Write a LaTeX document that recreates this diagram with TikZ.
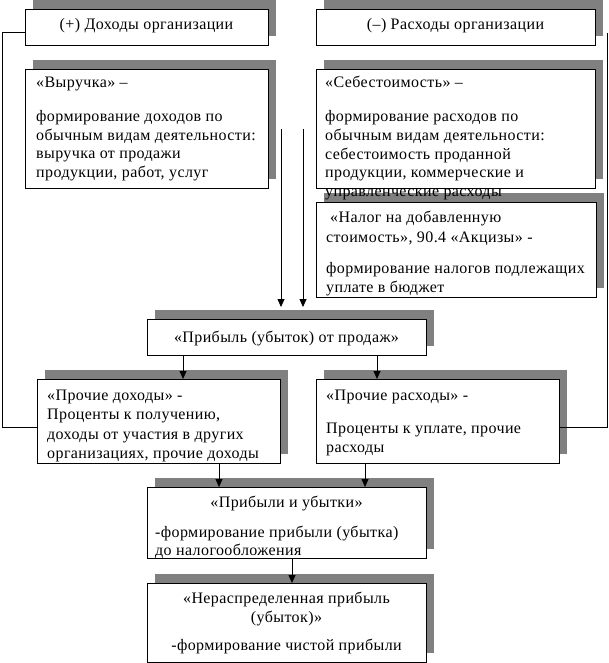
\documentclass[tikz,border=0pt]{standalone}
\usepackage{fontspec}
\setmainfont{Liberation Serif}[LetterSpace=2.5]
\usetikzlibrary{arrows.meta,shadows}
\definecolor{shadowgray}{HTML}{808080}
\begin{document}
\begin{tikzpicture}[x=1pt,y=-1pt,
  box/.style={draw=black, line width=0.8pt, fill=white, inner sep=0pt, outer sep=0pt,
    anchor=north west, general shadow={fill=shadowgray, shadow xshift=8pt, shadow yshift=9pt}},
  txt/.style={inner sep=0pt, font=\fontsize{16}{18.5}\selectfont},
  tl/.style={txt, anchor=base west},
  tc/.style={txt, anchor=base},
  arr/.style={line width=0.8pt, -{Triangle[length=8pt,width=7pt]}},
  con/.style={line width=0.8pt}]
\useasboundingbox (0,0) rectangle (609,663);

% boxes
\node[box, minimum width=243pt, minimum height=36pt] (A) at (25,9) {};
\node[box, minimum width=279pt, minimum height=36pt] (B) at (316,9) {};
\node[box, minimum width=243pt, minimum height=119pt] (C) at (25,69) {};
\node[box, minimum width=279pt, minimum height=119pt] (D) at (316,69) {};
\node[box, minimum width=280pt, minimum height=95pt] (E) at (316,202) {};
\node[box, minimum width=279pt, minimum height=36pt] (F) at (147,319) {};
\node[box, minimum width=243pt, minimum height=84pt] (G) at (37,379) {};
\node[box, minimum width=243pt, minimum height=84pt] (H) at (316,379) {};
\node[box, minimum width=279pt, minimum height=71pt] (I) at (147,487) {};
\node[box, minimum width=279pt, minimum height=79pt] (J) at (147,583) {};

% texts
\node[tc] (At) at (146.5,30) {(+) Доходы организации};
\node[tc] (Bt) at (455.5,30) {(–) Расходы организации};

\node[tl] (C1) at (36,88) {«Выручка» –};
\node[tl] (C2) at (36,122) {формирование доходов по};
\node[tl] (C3) at (36,140.5) {обычным видам деятельности:};
\node[tl] (C4) at (36,159) {выручка от продажи};
\node[tl] (C5) at (36,177.5) {продукции, работ, услуг};

\node[tl] (D1) at (325,88) {«Себестоимость» –};
\node[tl] (D2) at (325,122) {формирование расходов по};
\node[tl] (D3) at (325,141) {обычным видам деятельности:};
\node[tl] (D4) at (325,159.5) {себестоимость проданной};
\node[tl] (D5) at (325,178) {продукции, коммерческие и};
\node[tl] (D6) at (325,196.5) {управленческие расходы};

\node[tl] (E1) at (330,222) {«Налог на добавленную};
\node[tl] (E2) at (326,242) {стоимость», 90.4 «Акцизы» -};
\node[tl] (E3) at (326,273) {формирование налогов подлежащих};
\node[tl] (E4) at (326,292) {уплате в бюджет};

\node[tc] (Ft) at (286.5,342) {«Прибыль (убыток) от продаж»};

\node[tl] (G1) at (47,400) {«Прочие доходы» -};
\node[tl] (G2) at (47,419.5) {Проценты к получению,};
\node[tl] (G3) at (47,439) {доходы от участия в других};
\node[tl] (G4) at (47,458.5) {организациях, прочие доходы};

\node[tl] (H1) at (326,400) {«Прочие расходы» -};
\node[tl] (H2) at (326,433) {Проценты к уплате, прочие};
\node[tl] (H3) at (326,452) {расходы};

\node[tc] (I1) at (286.5,507) {«Прибыли и убытки»};
\node[tl] (I2) at (155,537) {-формирование прибыли (убытка)};
\node[tl] (I3) at (155,555) {до налогообложения};

\node[tc] (J1) at (286.5,603) {«Нераспределенная прибыль};
\node[tc] (J2) at (286.5,622) {(убыток)»};
\node[tc] (J3) at (286.5,650) {-формирование чистой прибыли};

% connectors
\coordinate (s1) at (281,129);
\coordinate (s2) at (303,129);
\coordinate (e1) at (s1 |- F.north);
\coordinate (e2) at (s2 |- F.north);
\draw[arr] (s1) -- ([yshift=12pt]e1);
\draw[arr] (s2) -- ([yshift=12pt]e2);

\draw[arr] ([xshift=36pt]F.south west) -- ([xshift=36pt]F.south west |- G.north);
\draw[arr] ([xshift=230pt]F.south west) -- ([xshift=230pt]F.south west |- H.north);
\draw[arr] ([xshift=182pt]G.south west) -- ([xshift=182pt]G.south west |- I.north);
\draw[arr] ([xshift=49pt]H.south west) -- ([xshift=49pt]H.south west |- I.north);
\draw[arr] ([xshift=145pt]I.south west) -- ([xshift=145pt]I.south west |- J.north);

\draw[con] ([yshift=-5pt]A.west) -- ++(-23,0) |- ([yshift=-6pt]G.west);
\coordinate (rtop) at (607,33);
\draw[con] (rtop) |- ([yshift=-6pt]H.east);
\end{tikzpicture}
\end{document}
